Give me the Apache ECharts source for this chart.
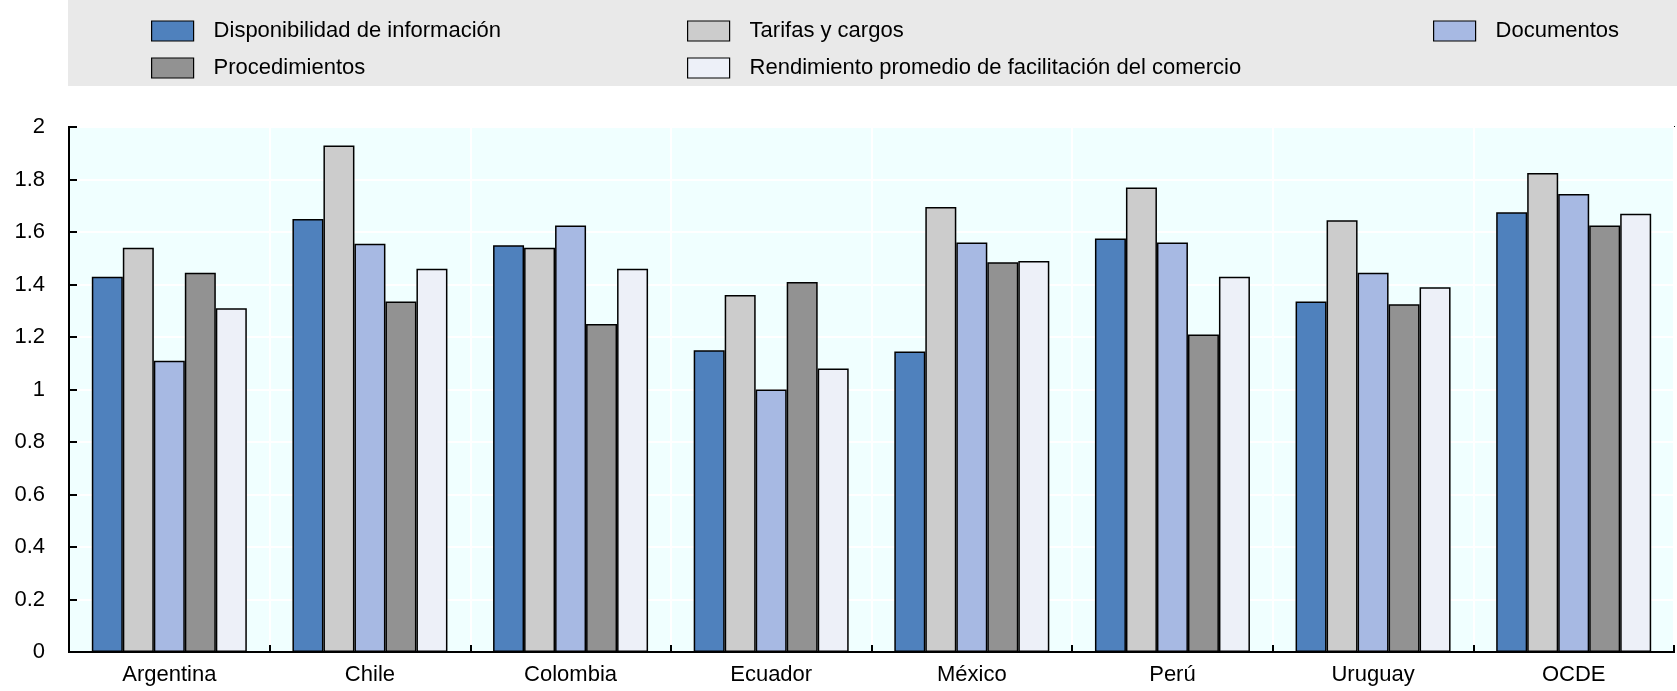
<!DOCTYPE html>
<html>
<head>
<meta charset="utf-8">
<script src="https://cdn.jsdelivr.net/npm/echarts@6/dist/echarts.min.js"></script>
<style>
html,body{margin:0;padding:0;background:#fff;}
#chart{width:1677px;height:691px;}
</style>
</head>
<body>
<div id="chart"></div>
<script>
const categories = ['Argentina','Chile','Colombia','Ecuador','México','Perú','Uruguay','OCDE'];
const disponibilidad = [1.43, 1.65, 1.55, 1.15, 1.145, 1.575, 1.335, 1.675];
const tarifas        = [1.54, 1.93, 1.54, 1.36, 1.695, 1.77, 1.645, 1.825];
const documentos     = [1.11, 1.555, 1.625, 1.0, 1.56, 1.56, 1.445, 1.745];
const procedimientos = [1.445, 1.335, 1.25, 1.41, 1.485, 1.21, 1.325, 1.625];
const rendimiento    = [1.31, 1.46, 1.46, 1.08, 1.49, 1.43, 1.39, 1.67];
const seriesNames = ['Disponibilidad de información','Tarifas y cargos','Documentos','Procedimientos','Rendimiento promedio de facilitación del comercio'];
const seriesData = [disponibilidad, tarifas, documentos, procedimientos, rendimiento];
const colors = ['#4F81BD','#CCCCCC','#A7B9E3','#929292','#EDF0F8'];

const FONT = 'Liberation Sans, Arial, sans-serif';
const chart = echarts.init(document.getElementById('chart'));

function legend(names, left) {
  return {
    data: names,
    orient: 'vertical',
    left: left,
    top: 20,
    itemWidth: 42,
    itemHeight: 20,
    itemGap: 15,
    padding: 0,
    selectedMode: false,
    icon: 'rect',
    itemStyle: {borderColor: '#000', borderWidth: 1.2},
    textStyle: {fontFamily: FONT, fontSize: 22, color: '#000', lineHeight: 20, padding: [0,0,0,15]}
  };
}

chart.setOption({
  animation: false,
  color: colors,
  graphic: [{
    type: 'rect', left: 68, top: 0, z: -10,
    shape: {width: 1609, height: 86},
    style: {fill: '#E9E9E9'}
  }],
  legend: [
    legend([seriesNames[0], seriesNames[3]], 151),
    legend([seriesNames[1], seriesNames[4]], 687),
    legend([seriesNames[2]], 1433)
  ],
  grid: {
    left: 69, right: 3, top: 127, bottom: 39,
    show: true, backgroundColor: '#F0FFFF', borderColor: '#000', borderWidth: 2
  },
  xAxis: {
    type: 'category',
    data: categories,
    axisLine: {lineStyle: {color: '#000', width: 2}},
    axisTick: {show: true, inside: true, length: 7, lineStyle: {color: '#000', width: 2}},
    splitLine: {show: true, lineStyle: {color: '#FFFFFF', width: 2}},
    axisLabel: {fontFamily: FONT, fontSize: 22, color: '#000', margin: 12}
  },
  yAxis: {
    type: 'value', min: 0, max: 2, interval: 0.2,
    axisLine: {show: true, lineStyle: {color: '#000', width: 2}},
    axisTick: {show: true, inside: true, length: 8, lineStyle: {color: '#000', width: 2}},
    splitLine: {show: true, lineStyle: {color: '#FFFFFF', width: 2}},
    axisLabel: {fontFamily: FONT, fontSize: 22, color: '#000', margin: 24}
  },
  series: seriesNames.map((n, i) => ({
    name: n,
    type: 'bar',
    data: seriesData[i],
    barWidth: 31,
    barGap: '0%',
    itemStyle: {color: colors[i], borderColor: '#000', borderWidth: 1.5}
  }))
});
</script>
</body>
</html>
